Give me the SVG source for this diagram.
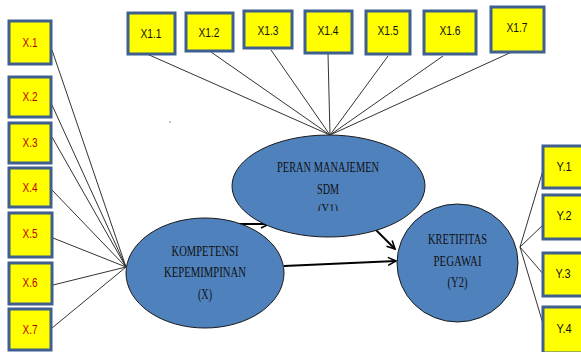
<svg xmlns="http://www.w3.org/2000/svg" width="581" height="352" viewBox="0 0 581 352">
<style>
.box{fill:#ffff00;stroke:#3f5f8e;stroke-width:3}
.lbl{font-family:"Liberation Sans",Arial,sans-serif;font-size:13.5px;text-anchor:middle}
.red{fill:#c00000}
.blk{fill:#111}
.ell{fill:#4f81bd;stroke:#1a1a1a;stroke-width:1}
.et{font-family:"Liberation Serif","Times New Roman",serif;font-size:14px;text-anchor:middle;fill:#111}
.thin{stroke:#333;stroke-width:1;fill:none}
.arr{stroke:#000;stroke-width:2;fill:none}
</style>
<defs>
<marker id="ah" viewBox="0 0 10 10" refX="9" refY="5" markerWidth="5" markerHeight="5" orient="auto" markerUnits="strokeWidth">
<path d="M1,1 L9,5 L1,9" fill="none" stroke="#000" stroke-width="1.6"/>
</marker>
<clipPath id="y1clip"><rect x="230" y="130" width="200" height="81"/></clipPath>
</defs>
<rect width="581" height="352" fill="#fff"/>
<g id="connectors">
<line class="thin" x1="52" y1="50" x2="126" y2="267"/>
<line class="thin" x1="52" y1="105" x2="126" y2="267"/>
<line class="thin" x1="52" y1="137" x2="126" y2="267"/>
<line class="thin" x1="52" y1="190" x2="126" y2="267"/>
<line class="thin" x1="53" y1="238" x2="126" y2="267"/>
<line class="thin" x1="53" y1="285" x2="126" y2="267"/>
<line class="thin" x1="52" y1="328" x2="126" y2="267"/>
<line class="thin" x1="147" y1="54" x2="330" y2="135"/>
<line class="thin" x1="211" y1="52" x2="330" y2="135"/>
<line class="thin" x1="271" y1="50" x2="330" y2="135"/>
<line class="thin" x1="328" y1="54" x2="330" y2="135"/>
<line class="thin" x1="388" y1="56" x2="330" y2="135"/>
<line class="thin" x1="443" y1="56" x2="330" y2="135"/>
<line class="thin" x1="514" y1="51" x2="330" y2="135"/>
<line class="thin" x1="520" y1="247" x2="544" y2="167"/>
<line class="thin" x1="520" y1="247" x2="544" y2="224"/>
<line class="thin" x1="520" y1="247" x2="544" y2="275"/>
<line class="thin" x1="520" y1="247" x2="544" y2="327"/>
<line class="arr" x1="237" y1="224" x2="269" y2="224" marker-end="url(#ah)"/>
<line class="arr" x1="373" y1="227" x2="395" y2="249" marker-end="url(#ah)"/>
<line class="arr" x1="284" y1="266" x2="396" y2="261" marker-end="url(#ah)"/>
</g>
<g id="X1"><rect class="box" x="9" y="21" width="42" height="43"/><text class="lbl red" x="30" y="47" textLength="15" lengthAdjust="spacingAndGlyphs">X.1</text></g>
<g id="X2"><rect class="box" x="9" y="77" width="42" height="40"/><text class="lbl red" x="30" y="101" textLength="15" lengthAdjust="spacingAndGlyphs">X.2</text></g>
<g id="X3"><rect class="box" x="9" y="123" width="42" height="40"/><text class="lbl red" x="30" y="147" textLength="15" lengthAdjust="spacingAndGlyphs">X.3</text></g>
<g id="X4"><rect class="box" x="9" y="168" width="42" height="39"/><text class="lbl red" x="30" y="192" textLength="15" lengthAdjust="spacingAndGlyphs">X.4</text></g>
<g id="X5"><rect class="box" x="9" y="213" width="43" height="44"/><text class="lbl red" x="30" y="238" textLength="15" lengthAdjust="spacingAndGlyphs">X.5</text></g>
<g id="X6"><rect class="box" x="9" y="263" width="43" height="41"/><text class="lbl red" x="30" y="287" textLength="15" lengthAdjust="spacingAndGlyphs">X.6</text></g>
<g id="X7"><rect class="box" x="9" y="309" width="42" height="41"/><text class="lbl red" x="30" y="334" textLength="15" lengthAdjust="spacingAndGlyphs">X.7</text></g>
<g id="X1_1"><rect class="box" x="128" y="13" width="47" height="41"/><text class="lbl blk" x="151" y="38" textLength="21" lengthAdjust="spacingAndGlyphs">X1.1</text></g>
<g id="X1_2"><rect class="box" x="186" y="13" width="47" height="38"/><text class="lbl blk" x="209" y="37" textLength="21" lengthAdjust="spacingAndGlyphs">X1.2</text></g>
<g id="X1_3"><rect class="box" x="244" y="11" width="48" height="37"/><text class="lbl blk" x="268" y="35" textLength="21" lengthAdjust="spacingAndGlyphs">X1.3</text></g>
<g id="X1_4"><rect class="box" x="305" y="11" width="47" height="42"/><text class="lbl blk" x="328" y="35" textLength="21" lengthAdjust="spacingAndGlyphs">X1.4</text></g>
<g id="X1_5"><rect class="box" x="366" y="11" width="44" height="43"/><text class="lbl blk" x="388" y="35" textLength="21" lengthAdjust="spacingAndGlyphs">X1.5</text></g>
<g id="X1_6"><rect class="box" x="424" y="11" width="52" height="43"/><text class="lbl blk" x="450" y="35" textLength="21" lengthAdjust="spacingAndGlyphs">X1.6</text></g>
<g id="X1_7"><rect class="box" x="491" y="7" width="53" height="45"/><text class="lbl blk" x="517" y="32" textLength="21" lengthAdjust="spacingAndGlyphs">X1.7</text></g>
<g id="Y_1"><rect class="box" x="543" y="146" width="42" height="42"/><text class="lbl blk" x="564" y="171" textLength="15" lengthAdjust="spacingAndGlyphs">Y.1</text></g>
<g id="Y_2"><rect class="box" x="543" y="195" width="42" height="44"/><text class="lbl blk" x="564" y="220" textLength="15" lengthAdjust="spacingAndGlyphs">Y.2</text></g>
<g id="Y_3"><rect class="box" x="543" y="253" width="42" height="43"/><text class="lbl blk" x="563" y="278" textLength="15" lengthAdjust="spacingAndGlyphs">Y.3</text></g>
<g id="Y_4"><rect class="box" x="543" y="307" width="42" height="46"/><text class="lbl blk" x="564" y="333" textLength="15" lengthAdjust="spacingAndGlyphs">Y.4</text></g>
<g id="Y1">
<ellipse class="ell" cx="328.5" cy="186" rx="96.5" ry="51"/>
<text class="et" x="328" y="172" textLength="102" lengthAdjust="spacingAndGlyphs">PERAN MANAJEMEN</text>
<text class="et" x="328" y="194" textLength="22" lengthAdjust="spacingAndGlyphs">SDM</text>
<text class="et" x="328" y="214" textLength="20" lengthAdjust="spacingAndGlyphs" clip-path="url(#y1clip)">(Y1)</text>
</g>
<g id="X">
<ellipse class="ell" cx="205" cy="273" rx="79" ry="55"/>
<text class="et" x="205" y="256" textLength="67" lengthAdjust="spacingAndGlyphs">KOMPETENSI</text>
<text class="et" x="205" y="277" textLength="82" lengthAdjust="spacingAndGlyphs">KEPEMIMPINAN</text>
<text class="et" x="205" y="299" textLength="14" lengthAdjust="spacingAndGlyphs">(X)</text>
</g>
<g id="Y2">
<ellipse class="ell" cx="457.5" cy="263" rx="60.5" ry="59"/>
<text class="et" x="457.5" y="244" textLength="59" lengthAdjust="spacingAndGlyphs">KRETIFITAS</text>
<text class="et" x="457.5" y="266" textLength="48" lengthAdjust="spacingAndGlyphs">PEGAWAI</text>
<text class="et" x="457.5" y="287" textLength="20" lengthAdjust="spacingAndGlyphs">(Y2)</text>
</g>
<circle cx="170" cy="122" r="0.8" fill="#4f81bd"/>
</svg>
